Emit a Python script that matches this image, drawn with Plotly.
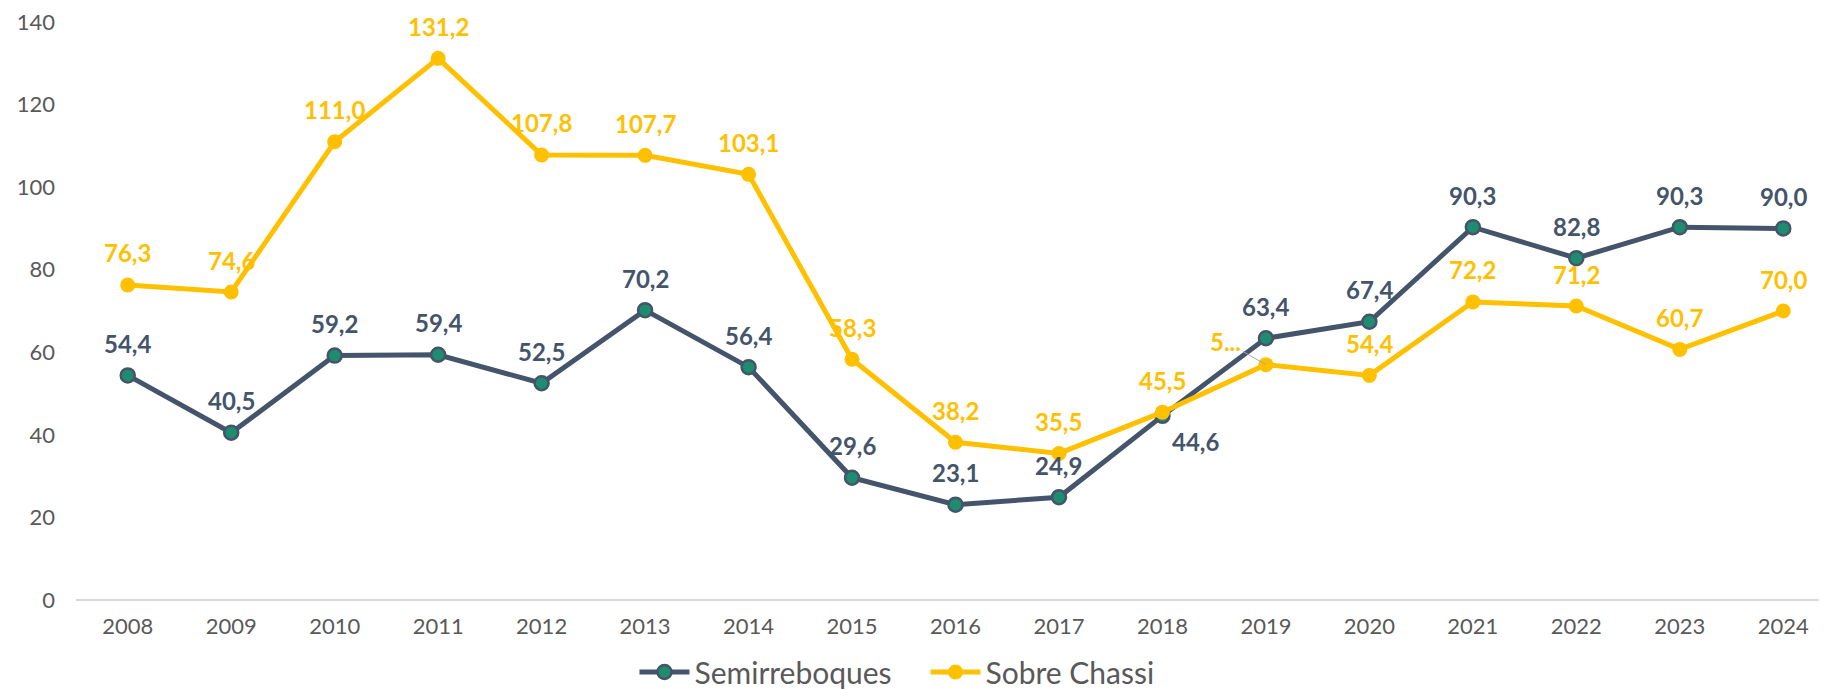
import plotly.graph_objects as go

years = [str(y) for y in range(2008, 2025)]
semirreboques = [54.4, 40.5, 59.2, 59.4, 52.5, 70.2, 56.4, 29.6, 23.1, 24.9, 44.6, 63.4, 67.4, 90.3, 82.8, 90.3, 90.0]
sobre_chassi = [76.3, 74.6, 111.0, 131.2, 107.8, 107.7, 103.1, 58.3, 38.2, 35.5, 45.5, 57.0, 54.4, 72.2, 71.2, 60.7, 70.0]
y_ticks = [0, 20, 40, 60, 80, 100, 120, 140]

DARK = "#44546A"
GREEN = "#1E8C6E"
YELLOW = "#FFC000"
GRAY_TXT = "#595959"
FONT = "Lato"
LBL = 24


def fmt(v):
    return f"{v:.1f}".replace(".", ",")


fig = go.Figure()
fig.add_trace(go.Scatter(
    x=years, y=semirreboques, name="Semirreboques", mode="lines+markers",
    line=dict(color=DARK, width=5),
    marker=dict(size=14, color=GREEN, line=dict(color=DARK, width=2.5)),
    cliponaxis=False,
))
fig.add_trace(go.Scatter(
    x=years, y=sobre_chassi, name="Sobre Chassi", mode="lines+markers",
    line=dict(color=YELLOW, width=5),
    marker=dict(size=15, color=YELLOW),
    cliponaxis=False,
))

annotations = []
for i, (yr, v) in enumerate(zip(years, semirreboques)):
    xs, ys = 0, 32
    if yr == "2018":
        xs, ys = 33, -26
    annotations.append(dict(x=i, y=v, xref="x", yref="y", text=fmt(v), showarrow=False,
                            xshift=xs, yshift=ys,
                            font=dict(family=FONT, size=LBL, color=DARK, weight="bold")))
for i, (yr, v) in enumerate(zip(years, sobre_chassi)):
    if yr == "2019":
        annotations.append(dict(x=i, y=v, xref="x", yref="y", text=fmt(v)[0] + "...",
                                showarrow=True, arrowhead=0, arrowwidth=1, arrowcolor="#A6A6A6",
                                ax=-40, ay=-23, standoff=0,
                                font=dict(family=FONT, size=LBL, color=YELLOW, weight="bold")))
        continue
    annotations.append(dict(x=i, y=v, xref="x", yref="y", text=fmt(v), showarrow=False,
                            yshift=32,
                            font=dict(family=FONT, size=LBL, color=YELLOW, weight="bold")))

fig.update_layout(
    width=1827, height=690,
    margin=dict(l=68, r=0, t=14, b=94),
    paper_bgcolor="white", plot_bgcolor="white",
    font=dict(family=FONT, color=GRAY_TXT),
    showlegend=True,
    legend=dict(orientation="h", x=0.3175, xanchor="left", y=-0.125, yanchor="middle",
                font=dict(family=FONT, size=30, color=GRAY_TXT), itemwidth=50,
                entrywidth=226, entrywidthmode="pixels",
                traceorder="normal"),
    annotations=annotations,
    xaxis=dict(type="category", range=[-0.5, 16.5], showgrid=False, showline=False,
               ticks="", tickfont=dict(family=FONT, size=22, color=GRAY_TXT),
               ticklabelstandoff=11, zeroline=False),
    yaxis=dict(range=[0, 140], tickvals=y_ticks, showgrid=False, showline=False,
               zeroline=True, zerolinecolor="#D9D9D9", zerolinewidth=1.5,
               ticks="", tickfont=dict(family=FONT, size=22, color=GRAY_TXT),
               ticklabelstandoff=20, ticklabeloverflow="allow"),
    hovermode=False,
)

fig.write_html("out.html")
